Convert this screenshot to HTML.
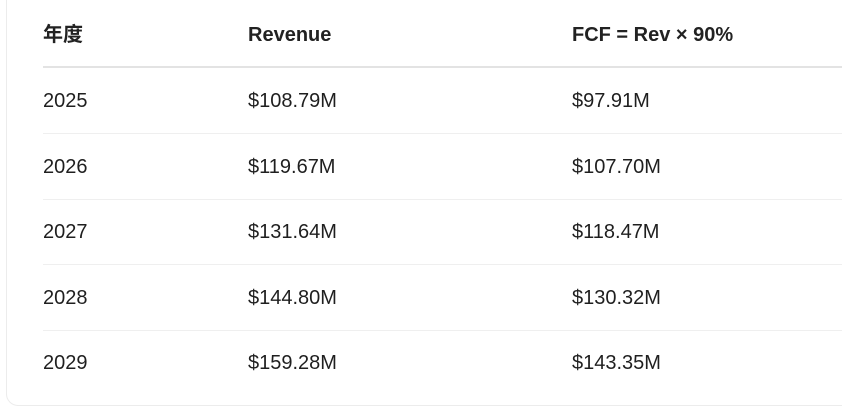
<!DOCTYPE html>
<html><head><meta charset="utf-8"><style>
html,body{margin:0;padding:0;background:#fff;}
body{width:842px;height:408px;overflow:hidden;position:relative;font-family:"Liberation Sans","Noto Sans CJK SC",sans-serif;color:#1f1f1f;}
.card{position:absolute;left:6px;top:-12px;width:860px;height:418px;border:1px solid #ececec;border-radius:12px;box-sizing:border-box;}
.t{position:absolute;font-size:20px;line-height:24px;white-space:nowrap;}
.h{font-weight:bold;color:#222;}
.line{position:absolute;left:43px;right:0;height:1px;background:#efefef;}
</style></head><body>
<div class="card"></div>
<div id="tbl">
<div class="t h" style="left:43px;top:23px">年度</div>
<div class="t h" style="left:248px;top:23px">Revenue</div>
<div class="t h" style="left:572px;top:23px">FCF = Rev × 90%</div>
<div class="line" style="top:66px;height:2px;background:#e3e3e3"></div>
</div>
<script>
const years=["2025","2026","2027","2028","2029"];
const revenue=["$108.79M","$119.67M","$131.64M","$144.80M","$159.28M"];
const fcf=["$97.91M","$107.70M","$118.47M","$130.32M","$143.35M"];
const tbl=document.getElementById('tbl');
years.forEach((y,i)=>{
  const top=89+i*65.5;
  const cols=[[43,y,'year-cell'],[248,revenue[i],'revenue-cell'],[572,fcf[i],'fcf-cell']];
  cols.forEach(c=>{
    const d=document.createElement('div');
    d.className='t';
    d.style.left=c[0]+'px';d.style.top=top+'px';
    d.textContent=c[1];
    
    
    tbl.appendChild(d);
  });
  if(i<years.length-1){
    const l=document.createElement('div');
    l.className='line';
    l.style.top=(133+i*65.5)+'px';
    
    
    tbl.appendChild(l);
  }
});
</script>
</body></html>
